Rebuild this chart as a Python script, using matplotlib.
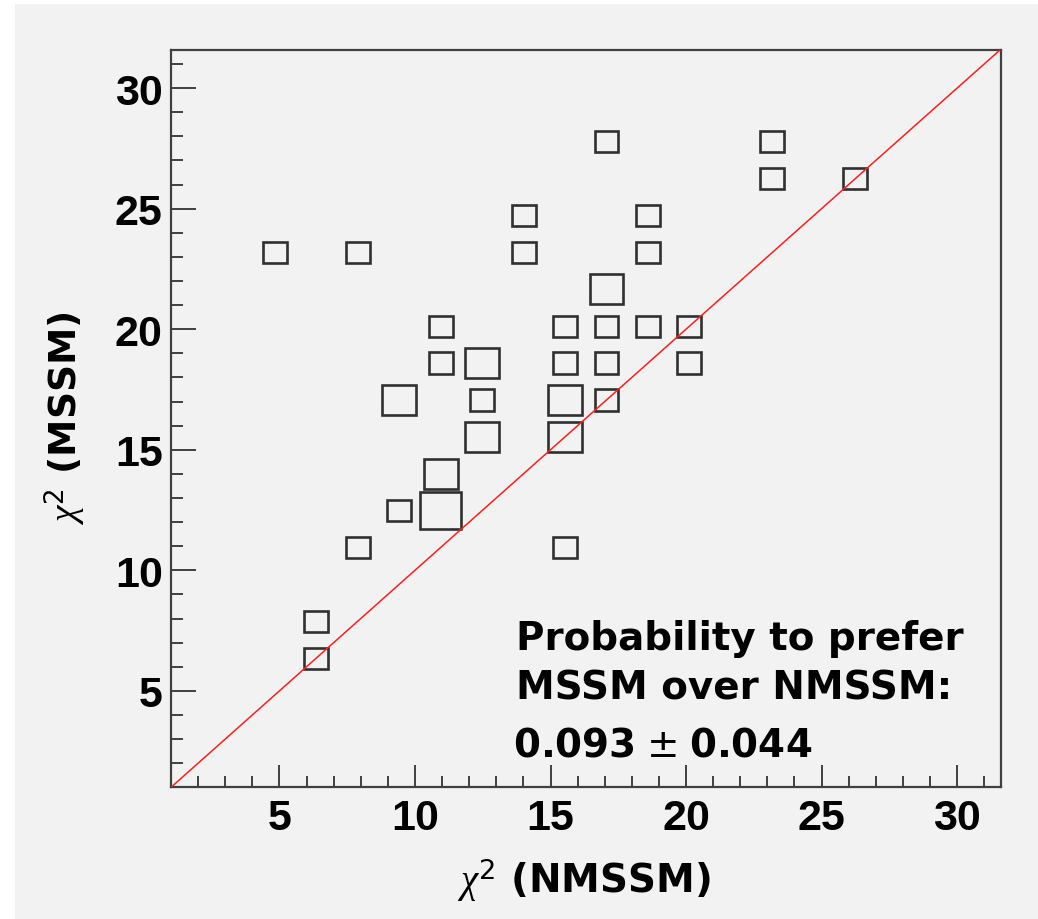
import numpy as np
import matplotlib
matplotlib.use("Agg")
import matplotlib.pyplot as plt
from matplotlib.patches import Rectangle

# ---- data: 2D histogram (BOX style), 20x20 bins on [1, 31.6] ----
x_min, x_max, n_bins = 1.0, 31.6, 20
# bin-centre readings (chi2 NMSSM, chi2 MSSM) and entry counts
chi2_nmssm = [4.8, 7.9, 17.1, 23.2, 23.2, 26.2, 14.0, 14.0, 18.6, 18.6,
              17.1, 10.9, 15.5, 17.1, 18.6, 20.1, 10.9, 12.5, 15.5, 17.1,
              20.1, 9.4, 12.5, 15.5, 17.1, 12.5, 15.5, 10.9, 9.4, 10.9,
              7.9, 15.5, 6.4, 6.4]
chi2_mssm = [23.2, 23.2, 27.8, 27.8, 26.2, 26.2, 24.7, 23.2, 24.7, 23.2,
             21.7, 20.1, 20.1, 20.1, 20.1, 20.1, 18.6, 18.6, 18.6, 18.6,
             18.6, 17.1, 17.1, 17.1, 17.1, 15.5, 15.5, 14.0, 12.5, 12.5,
             10.9, 10.9, 7.9, 6.4]
counts = [1, 1, 1, 1, 1, 1, 1, 1, 1, 1,
          2, 1, 1, 1, 1, 1, 1, 2, 1, 1,
          1, 2, 1, 2, 1, 2, 2, 2, 1, 3,
          1, 1, 1, 1]
x_ticks = [5, 10, 15, 20, 25, 30]
y_ticks = [5, 10, 15, 20, 25, 30]
annot_lines = ["Probability to prefer", "MSSM over NMSSM:", r"0.093$\,\pm\,$0.044"]

plt.rcParams["mathtext.fontset"] = "custom"
plt.rcParams["mathtext.it"] = "Liberation Serif:italic"
plt.rcParams["mathtext.rm"] = "DejaVu Sans"
plt.rcParams["mathtext.bf"] = "DejaVu Sans:bold"
plt.rcParams["font.family"] = ["Liberation Sans", "DejaVu Sans"]
wide = ["DejaVu Sans"]

W, H = 1038, 920
fig = plt.figure(figsize=(W / 100, H / 100), dpi=100)
fig.patch.set_facecolor("white")
bg = "#f2f2f2"
fig.add_artist(Rectangle((15 / W, 0), 1, 1 - 5 / H, transform=fig.transFigure,
                         facecolor=bg, edgecolor="none", zorder=-10))

left, right, bottom, top = 171, 1000.5, 788.3, 50.5
ax = fig.add_axes([left / W, 1 - bottom / H, (right - left) / W, (bottom - top) / H])
ax.set_facecolor(bg)

edges = np.linspace(x_min, x_max, n_bins + 1)
hist, xe, ye = np.histogram2d(chi2_nmssm, chi2_mssm, bins=[edges, edges], weights=counts)
bw = edges[1] - edges[0]
hmax = hist.max()
for i in range(n_bins):
    for j in range(n_bins):
        c = hist[i, j]
        if c <= 0:
            continue
        cx = 0.5 * (xe[i] + xe[i + 1])
        cy = 0.5 * (ye[j] + ye[j + 1])
        s = bw * np.sqrt(c / hmax)
        ax.add_patch(Rectangle((cx - s / 2, cy - s / 2), s, s, facecolor="none",
                               edgecolor="#303030", lw=1.9, zorder=3))

ax.plot([x_min, x_max], [x_min, x_max], color="#ff2020", lw=1.1, zorder=4)

ax.set_xlim(x_min, x_max)
ax.set_ylim(x_min, x_max)
ax.set_xticks(x_ticks)
ax.set_yticks(y_ticks)
ax.set_xticks(np.arange(2, 32, 1), minor=True)
ax.set_yticks(np.arange(2, 32, 1), minor=True)
for lab in ax.get_xticklabels() + ax.get_yticklabels():
    lab.set_fontweight("bold")
ax.tick_params(axis="both", which="both", direction="in", colors="#404040",
               labelcolor="black", labelsize=31, width=1.4)
ax.tick_params(axis="x", which="major", length=16, pad=8)
ax.tick_params(axis="x", which="minor", length=8)
ax.tick_params(axis="y", which="major", length=18, pad=6)
ax.tick_params(axis="y", which="minor", length=8.5)
for sp in ax.spines.values():
    sp.set_color("#404040")
    sp.set_linewidth(1.6)

fig.text(584 / W, 1 - 880 / H, r"$\chi^{2}$ (NMSSM)", ha="center", va="center",
         fontsize=28, fontweight="bold", family=wide)
fig.text(65 / W, 1 - 418 / H, r"$\chi^{2}$ (MSSM)", ha="center", va="center",
         fontsize=27, fontweight="bold", rotation=90, family=wide)

baselines = [650, 700, 757]
xs = [516, 516, 513]
for t, yb, xx in zip(annot_lines, baselines, xs):
    fig.text(xx / W, 1 - yb / H, t, ha="left", va="baseline", fontsize=28,
             fontweight="bold", family=wide)

fig.savefig("out.png", dpi=100, facecolor=fig.get_facecolor())
